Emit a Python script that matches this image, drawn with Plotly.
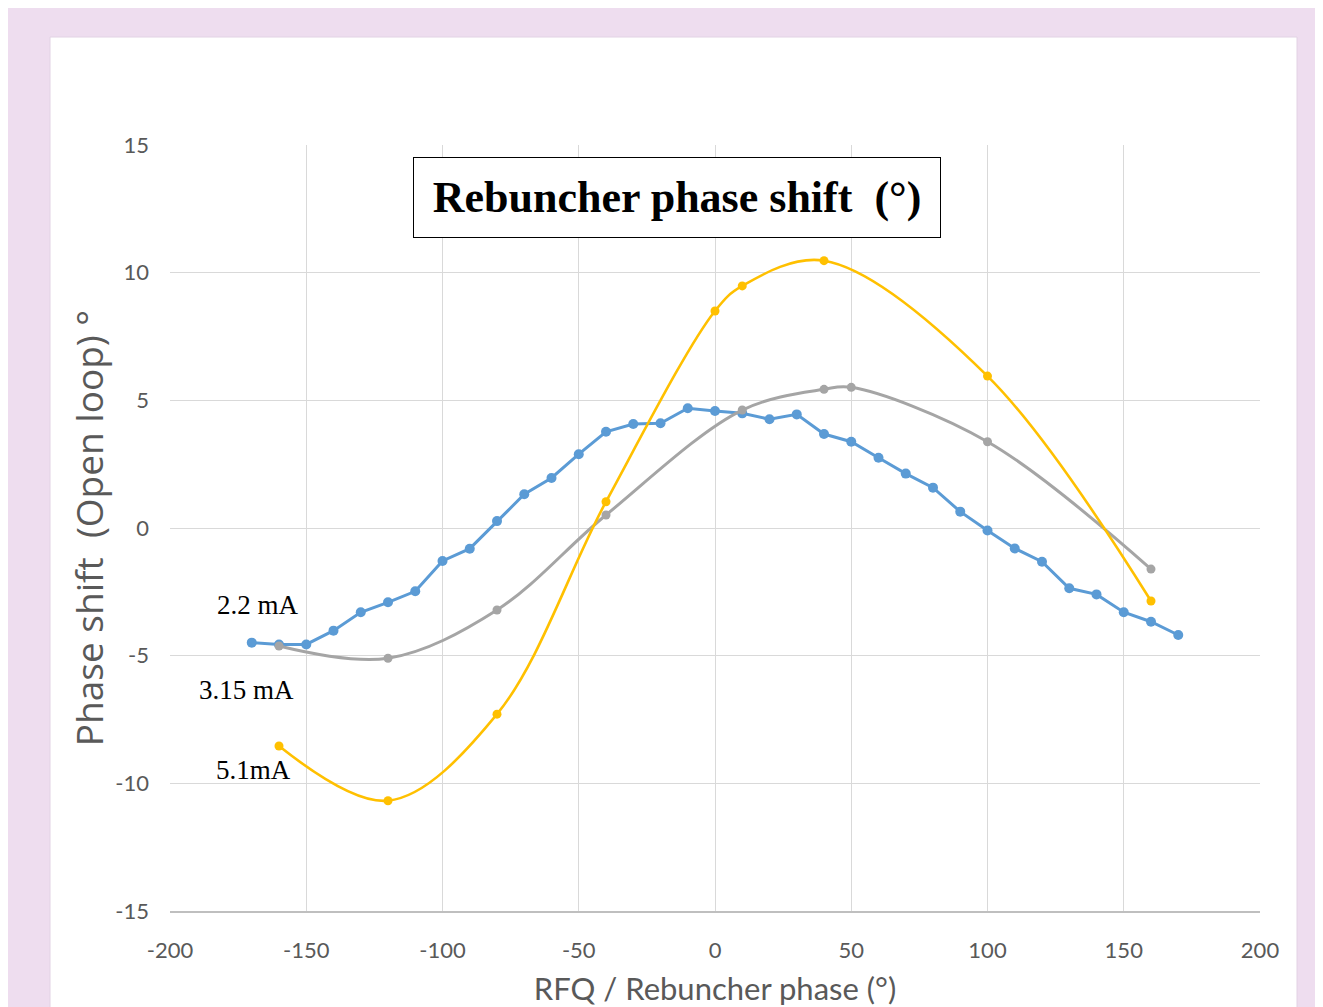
import plotly.graph_objects as go

# ── data ──────────────────────────────────────────────────────────────────────

x_22 = [-170, -160, -150, -140, -130, -120, -110, -100, -90, -80, -70, -60,
        -50, -40, -30, -20, -10, 0, 10, 20, 30, 40, 50, 60, 70, 80, 90, 100,
        110, 120, 130, 140, 150, 160, 170]
y_22 = [-4.49, -4.56, -4.56, -4.02, -3.30, -2.91, -2.48, -1.29, -0.81, 0.27,
        1.32, 1.96, 2.89, 3.77, 4.07, 4.10, 4.69, 4.58, 4.49, 4.26, 4.45, 3.68,
        3.38, 2.75, 2.13, 1.58, 0.64, -0.10, -0.80, -1.32, -2.36, -2.60, -3.30,
        -3.67, -4.19]

x_315 = [-160, -120, -80, -40, 10, 40, 50, 100, 160]
y_315 = [-4.62, -5.10, -3.21, 0.51, 4.62, 5.43, 5.51, 3.38, -1.61]

x_51 = [-160, -120, -80, -40, 0, 10, 40, 100, 160]
y_51 = [-8.54, -10.68, -7.29, 1.03, 8.50, 9.48, 10.47, 5.95, -2.86]

x_ticks = [-200, -150, -100, -50, 0, 50, 100, 150, 200]
y_ticks = [-15, -10, -5, 0, 5, 10, 15]

# ── styling ───────────────────────────────────────────────────────────────────

BLUE = "#5B9BD5"
GREY = "#A5A5A5"
GOLD = "#FFC000"
TICK_FONT = "Lato, Open Sans, sans-serif"
SERIF = "Liberation Serif, Times New Roman, serif"

# the page body adds an 8px offset; plot area sits at x 170..1260, y 145..911
fig = go.Figure()

fig.add_trace(go.Scatter(
    x=x_22, y=y_22, mode="lines+markers", name="2.2 mA",
    line=dict(color=BLUE, width=3),
    marker=dict(color=BLUE, size=10),
))
fig.add_trace(go.Scatter(
    x=x_315, y=y_315, mode="lines+markers", name="3.15 mA",
    line=dict(color=GREY, width=3, shape="spline", smoothing=1.0),
    marker=dict(color=GREY, size=9),
))
fig.add_trace(go.Scatter(
    x=x_51, y=y_51, mode="lines+markers", name="5.1mA",
    line=dict(color=GOLD, width=2.6, shape="spline", smoothing=1.0),
    marker=dict(color=GOLD, size=9),
))

# white chart panel on the lavender page
fig.add_shape(
    type="rect", xref="paper", yref="paper",
    x0=(50 - 170) / 1090, x1=(1297 - 170) / 1090,
    y0=(911 - 1010) / 766, y1=1 + (145 - 37) / 766,
    fillcolor="white", line=dict(color="#E2D2E4", width=1), layer="below",
)

# title box
fig.add_annotation(
    xref="paper", yref="paper",
    x=(677 - 170) / 1090, y=1 - (198 - 145) / 766,
    xanchor="center", yanchor="middle",
    text="<b>Rebuncher phase shift  (°)</b>", showarrow=False,
    font=dict(family=SERIF, size=44, color="black"),
    width=526, height=79, bgcolor="white",
    bordercolor="black", borderwidth=1, borderpad=0,
)

# series labels
for txt, lx, ly in [("2.2 mA", -167.7, -3.02),
                    ("3.15 mA", -172.1, -6.35),
                    ("5.1mA", -169.5, -9.48)]:
    fig.add_annotation(x=lx, y=ly, text=txt, showarrow=False,
                       font=dict(family=SERIF, size=27, color="black"))

fig.update_layout(
    width=1315, height=999,
    margin=dict(l=162, r=63, t=137, b=96),
    paper_bgcolor="#EEDDEF",
    plot_bgcolor="rgba(0,0,0,0)",
    showlegend=False,
    xaxis=dict(
        range=[-200, 200], tickvals=x_ticks,
        ticktext=[str(v) for v in x_ticks],
        showgrid=True, gridcolor="#D9D9D9", gridwidth=1,
        zeroline=False, showline=True, linecolor="#BFBFBF", linewidth=1.5,
        ticks="", ticklabelstandoff=19, automargin=False,
        tickfont=dict(family=TICK_FONT, size=22, color="#595959"),
        title=dict(text="RFQ / Rebuncher phase (°)", standoff=30,
                   font=dict(family=TICK_FONT, size=31, color="#595959")),
    ),
    yaxis=dict(
        range=[-15, 15], tickvals=y_ticks,
        ticktext=[str(v) for v in y_ticks],
        showgrid=True, gridcolor="#D9D9D9", gridwidth=1,
        zeroline=False, showline=False,
        ticks="", ticklabelstandoff=20, automargin=False,
        tickfont=dict(family=TICK_FONT, size=22, color="#595959"),
        title=dict(text="Phase shift  (Open loop) °", standoff=0,
                   font=dict(family="Open Sans, sans-serif", size=37, color="#595959")),
    ),
)

fig.write_html("out.html")
